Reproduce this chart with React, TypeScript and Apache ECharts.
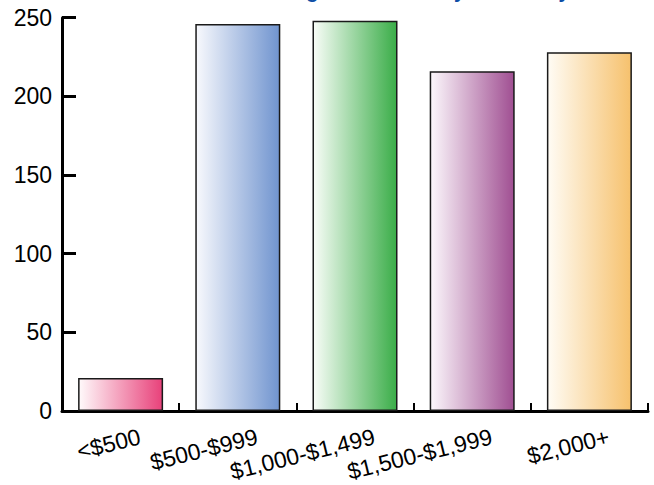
import React, { useEffect, useRef } from "react";
import * as echarts from "echarts";

const categories = ["<$500", "$500-$999", "$1,000-$1,499", "$1,500-$1,999", "$2,000+"];
const values = [21, 246, 248, 216, 228];
const barColors = ["#e8417a", "#7094cf", "#3aad48", "#a04f92", "#f6c16d"];
const barStartColors = ["#fffafb", "#f8f9fd", "#f9fdf8", "#fcf8fc", "#fffcf5"];
const yTicks = { min: 0, max: 250, interval: 50 };
const titleText = "Annual Budget Estimates by Income by Year";

const FONT = 'Arial, "Liberation Sans", Helvetica, sans-serif';

export default function App() {
  const ref = useRef<HTMLDivElement>(null);
  useEffect(() => {
    if (!ref.current) return;
    const chart = echarts.init(ref.current, undefined, { renderer: "svg" });
    chart.setOption({
      animation: false,
      backgroundColor: "#ffffff",
      textStyle: { fontFamily: FONT },
      graphic: [
        {
          type: "text",
          x: 194,
          y: 1,
          style: {
            text: titleText,
            font: `bold 20px ${FONT}`,
            fill: "#0d4ea6",
            align: "left",
            verticalAlign: "bottom",
          },
        },
      ],
      grid: { left: 62, right: 6, top: 17.7, bottom: 74, containLabel: false },
      xAxis: {
        type: "category",
        data: categories,
        boundaryGap: true,
        axisLine: { show: true, lineStyle: { color: "#000", width: 3 } },
        axisTick: { show: true, inside: true, length: 8, lineStyle: { color: "#000", width: 2 } },
        axisLabel: {
          rotate: 14,
          fontSize: 23,
          color: "#000",
          fontFamily: FONT,
          margin: 30,
          padding: [0, -20, 0, 0],
          interval: 0,
        },
        splitLine: { show: false },
      },
      yAxis: {
        type: "value",
        min: yTicks.min,
        max: yTicks.max,
        interval: yTicks.interval,
        axisLine: { show: true, lineStyle: { color: "#000", width: 3 } },
        axisTick: { show: true, inside: true, length: 14, lineStyle: { color: "#000", width: 3 } },
        axisLabel: { fontSize: 23, color: "#000", fontFamily: FONT, margin: 10 },
        splitLine: { show: false },
      },
      series: [
        {
          type: "bar",
          barWidth: 85,
          data: values.map((v, i) => ({
            value: v,
            itemStyle: {
              color: new echarts.graphic.LinearGradient(0, 0, 1, 0, [
                { offset: 0, color: barStartColors[i] },
                { offset: 1, color: barColors[i] },
              ]),
              borderColor: "#1a1a1a",
              borderWidth: 1.5,
            },
          })),
        },
      ],
    });
    return () => chart.dispose();
  }, []);
  return (
    <div
      ref={ref}
      style={{ position: "fixed", left: 0, top: 0, width: 654, height: 485 }}
    />
  );
}
